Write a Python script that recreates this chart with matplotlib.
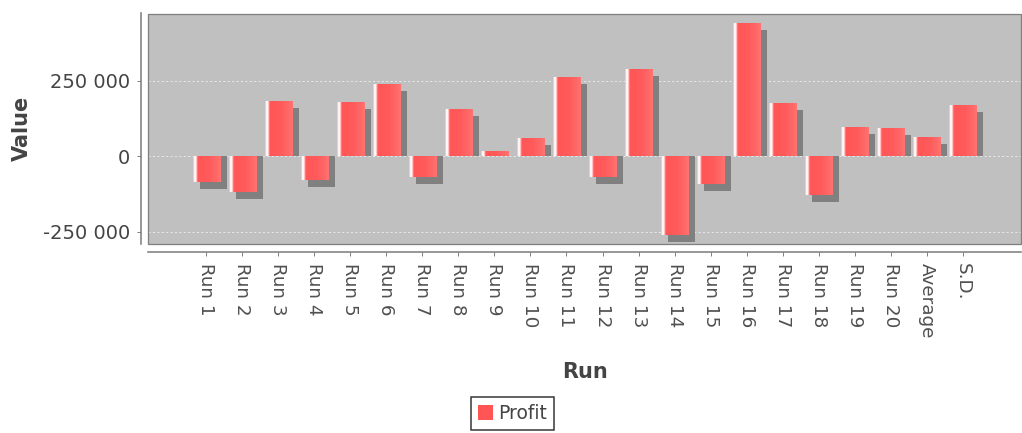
import numpy as np
import matplotlib
matplotlib.use("Agg")
import matplotlib.pyplot as plt
from matplotlib.colors import to_rgb
from matplotlib.patches import Patch, Rectangle
import matplotlib.ticker as ticker

# ── data ──────────────────────────────────────────────────────────────────────

RUNS = [f"Run {i}" for i in range(1, 21)] + ["Average", "S.D."]
PROFIT = [-86_000, -119_000, 184_000, -80_000, 179_000, 240_000, -67_000,
          157_000, 17_000, 62_000, 263_000, -70_000, 290_000, -262_000,
          -91_000, 443_000, 177_000, -130_000, 96_000, 95_000,
          64_500, 169_000]
Y_TICKS = [-250_000, 0, 250_000]

# ── style ─────────────────────────────────────────────────────────────────────

DPI = 100
W, H = 1022, 433
BAR_RED = "#ff5555"
PLOT_BG = "#c0c0c0"
AXIS_GREY = "#808080"
TEXT_GREY = "#444444"
SHADOW_PX = 7
X_LIM = (-1.61, len(RUNS) - 1 + 1.61)
Y_LIM = (-291_000, 474_000)

plt.rcParams["font.family"] = ["DejaVu Sans"]


def px(v):
    return v * 72 / DPI


def bar_gradient(n=64):
    # highlight stripe near the left edge, flat body, lighter right edge
    stops = [0.0, 0.05, 0.09, 0.17, 0.55, 0.85, 1.0]
    cols = ["#ffb0b0", "#ffffff", "#ffffff", "#ff5656", "#ff5a5a",
            "#ff6868", "#ff7575"]
    t = np.linspace(0, 1, n)
    rgb = np.array([to_rgb(c) for c in cols])
    out = np.stack([np.interp(t, stops, rgb[:, k]) for k in range(3)], axis=-1)
    return out[np.newaxis, :, :]


fig = plt.figure(figsize=(W / DPI, H / DPI), dpi=DPI)
ax = fig.add_axes([148 / W, 1 - 244 / H, (1021 - 148) / W, (244 - 13.5) / H])
ax.set_facecolor(PLOT_BG)

x = np.arange(len(RUNS))
ax.set_xlim(*X_LIM)
ax.set_ylim(*Y_LIM)

# shadow offset converted from pixels to data units
bbox = ax.get_window_extent()
dx = SHADOW_PX * (X_LIM[1] - X_LIM[0]) / bbox.width
dy = SHADOW_PX * (Y_LIM[1] - Y_LIM[0]) / bbox.height

# gridlines
for yv in Y_TICKS:
    ax.axhline(yv, color="#e6e6e6", lw=px(1), ls=(0, (2.2, 2.2)), zorder=1)

# bars; shadows are shifted right/down and trimmed at the zero base
bars = ax.bar(x, PROFIT, width=0.75, color=BAR_RED, lw=0, zorder=3)
grad = bar_gradient()
for b, v in zip(bars, PROFIT):
    x0, bw = b.get_x(), b.get_width()
    if v >= 0:
        s_lo, s_hi = 0, v - dy
    else:
        s_lo, s_hi = v - dy, 0
    if s_hi > s_lo:
        ax.add_patch(Rectangle((x0 + dx, s_lo), bw, s_hi - s_lo,
                               facecolor="#808080", lw=0, zorder=2))
    y_lo, y_hi = sorted((0, v))
    im = ax.imshow(grad, extent=(x0, x0 + bw, y_lo, y_hi), aspect="auto",
                   interpolation="bilinear", zorder=4)
    im.set_clip_path(b)

ax.set_xlim(*X_LIM)
ax.set_ylim(*Y_LIM)

# plot frame plus detached axis lines
ax.add_patch(Rectangle((0, 0), 1, 1, transform=ax.transAxes, fill=False,
                       edgecolor=AXIS_GREY, lw=px(1.3), zorder=6, clip_on=False))
for side in ("top", "right"):
    ax.spines[side].set_visible(False)
ax.spines["left"].set_position(("outward", px(7)))
ax.spines["bottom"].set_position(("outward", px(8)))
for side in ("left", "bottom"):
    ax.spines[side].set_color(AXIS_GREY)
    ax.spines[side].set_linewidth(px(1.6))

ax.set_xticks(x)
ax.set_xticklabels(RUNS, rotation=-90, fontsize=13.2, color="#505050",
                   va="top", ha="center")
ax.set_yticks(Y_TICKS)
ax.yaxis.set_major_formatter(
    ticker.FuncFormatter(lambda v, _: f"{int(v):,}".replace(",", " ")))
ax.tick_params(axis="y", labelsize=14, labelcolor=TEXT_GREY, color=AXIS_GREY,
               length=px(4), width=px(1), pad=px(7))
ax.tick_params(axis="x", color=AXIS_GREY, length=px(4), width=px(1),
               pad=px(7))

ax.set_xlabel("Run", fontsize=15, fontweight="bold", color=TEXT_GREY)
ax.xaxis.set_label_coords(0.5, -0.51)
ax.set_ylabel("Value", fontsize=15, fontweight="bold", color=TEXT_GREY)
ax.yaxis.set_label_coords(-0.133, 0.5)

leg = fig.legend(handles=[Patch(facecolor=BAR_RED, edgecolor="none",
                                label="Profit")],
                 loc="center", bbox_to_anchor=(512.5 / W, 1 - 413.5 / H),
                 fontsize=13.5, frameon=True, fancybox=False,
                 handlelength=0.8, handleheight=0.8, handletextpad=0.3,
                 borderpad=0.35, borderaxespad=0)
leg.get_frame().set_edgecolor("black")
leg.get_frame().set_linewidth(px(1.5))
for t in leg.get_texts():
    t.set_color(TEXT_GREY)

fig.savefig("out.png", dpi=DPI)
